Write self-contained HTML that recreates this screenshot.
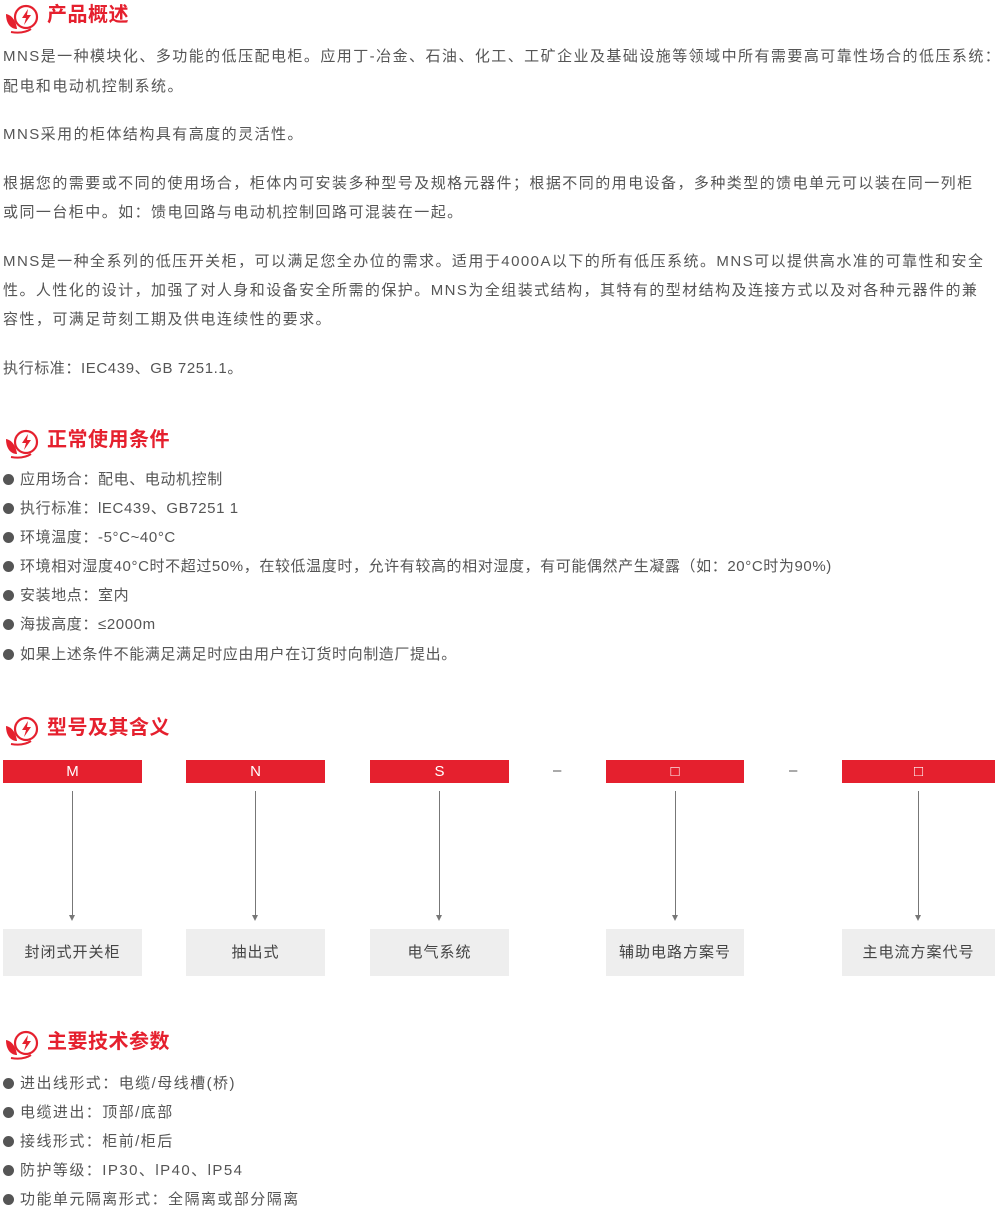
<!DOCTYPE html>
<html><head><meta charset="utf-8"><style>
body{margin:0;width:1000px;height:1215px;background:#fff;position:relative;overflow:hidden;font-family:"Liberation Sans","Noto Sans CJK SC",sans-serif;}
.t{position:absolute;left:3px;white-space:nowrap;font-size:15px;color:#555;letter-spacing:1.45px;line-height:20px;}
.n{letter-spacing:0.6px;}
.h{position:absolute;left:47px;font-size:20px;color:#e5202e;font-weight:bold;white-space:nowrap;line-height:24px;letter-spacing:0.5px;}
.ic{position:absolute;left:3px;width:36px;height:32px;}
.b::before{content:"";display:inline-block;width:11px;height:11px;border-radius:50%;background:#555;margin-right:6px;vertical-align:-1px;}
.rb{position:absolute;top:760px;height:23px;background:#e5202e;color:#fff;font-size:15px;text-align:center;line-height:23px;}
.gb{position:absolute;top:929px;height:47px;background:#eee;color:#444;font-size:15px;text-align:center;line-height:47px;letter-spacing:1px;}
.ar{position:absolute;top:791px;width:1px;height:125px;background:#777;}
.ar::after{content:"";position:absolute;left:-3px;bottom:-5px;border-left:3.5px solid transparent;border-right:3.5px solid transparent;border-top:6px solid #777;}
.d{position:absolute;top:762px;font-size:15px;color:#555;}
</style></head><body>
<svg width="0" height="0" style="position:absolute"><defs><g id="i"><circle cx="23" cy="15" r="11" fill="none" stroke="#e5202e" stroke-width="2.2"/><path d="M25 7 L19 16 L23 16 L21 23 L28 13 L24 13 Z" fill="#e5202e"/><path d="M3 12 C9 13 13 19 14 27 C8 27 3 22 3 12Z" fill="#e5202e"/><path d="M8 30 C14 31 22 31 28 27" stroke="#e5202e" stroke-width="2" fill="none"/></g></defs></svg>

<svg class="ic" style="top:2px" viewBox="0 0 36 32"><use href="#i"/></svg>
<div class="h" style="top:3px">产品概述</div>
<div class="t" style="top:47px">MNS是一种模块化、多功能的低压配电柜。应用丁-冶金、石油、化工、工矿企业及基础设施等领域中所有需要高可靠性场合的低压系统：</div>
<div class="t" style="top:77px">配电和电动机控制系统。</div>
<div class="t" style="top:125px">MNS采用的柜体结构具有高度的灵活性。</div>
<div class="t" style="top:174px">根据您的需要或不同的使用场合，柜体内可安装多种型号及规格元器件；根据不同的用电设备，多种类型的馈电单元可以装在同一列柜</div>
<div class="t" style="top:203px">或同一台柜中。如：馈电回路与电动机控制回路可混装在一起。</div>
<div class="t" style="top:252px">MNS是一种全系列的低压开关柜，可以满足您全办位的需求。适用于4000A以下的所有低压系统。MNS可以提供高水准的可靠性和安全</div>
<div class="t" style="top:281px">性。人性化的设计，加强了对人身和设备安全所需的保护。MNS为全组装式结构，其特有的型材结构及连接方式以及对各种元器件的兼</div>
<div class="t" style="top:310px">容性，可满足苛刻工期及供电连续性的要求。</div>
<div class="t n" style="top:359px">执行标准：IEC439、GB 7251.1。</div>

<svg class="ic" style="top:427px" viewBox="0 0 36 32"><use href="#i"/></svg>
<div class="h" style="top:428px">正常使用条件</div>
<div class="t b n" style="top:470px">应用场合：配电、电动机控制</div>
<div class="t b n" style="top:499px">执行标准：lEC439、GB7251 1</div>
<div class="t b n" style="top:528px">环境温度：-5°C~40°C</div>
<div class="t b n" style="top:557px">环境相对湿度40°C时不超过50%，在较低温度时，允许有较高的相对湿度，有可能偶然产生凝露（如：20°C时为90%)</div>
<div class="t b n" style="top:586px">安装地点：室内</div>
<div class="t b n" style="top:615px">海拔高度：≤2000m</div>
<div class="t b n" style="top:645px">如果上述条件不能满足满足时应由用户在订货时向制造厂提出。</div>

<svg class="ic" style="top:714px" viewBox="0 0 36 32"><use href="#i"/></svg>
<div class="h" style="top:716px">型号及其含义</div>
<div class="rb" style="left:3px;width:139px">M</div>
<div class="rb" style="left:186px;width:139px">N</div>
<div class="rb" style="left:370px;width:139px">S</div>
<div class="d" style="left:553px">–</div>
<div class="rb" style="left:606px;width:138px">□</div>
<div class="d" style="left:789px">–</div>
<div class="rb" style="left:842px;width:153px">□</div>
<div class="ar" style="left:72px"></div>
<div class="ar" style="left:255px"></div>
<div class="ar" style="left:439px"></div>
<div class="ar" style="left:675px"></div>
<div class="ar" style="left:918px"></div>
<div class="gb" style="left:3px;width:139px">封闭式开关柜</div>
<div class="gb" style="left:186px;width:139px">抽出式</div>
<div class="gb" style="left:370px;width:139px">电气系统</div>
<div class="gb" style="left:606px;width:138px">辅助电路方案号</div>
<div class="gb" style="left:842px;width:153px">主电流方案代号</div>

<svg class="ic" style="top:1028px" viewBox="0 0 36 32"><use href="#i"/></svg>
<div class="h" style="top:1030px">主要技术参数</div>
<div class="t b" style="top:1074px">进出线形式：电缆/母线槽(桥)</div>
<div class="t b" style="top:1103px">电缆进出：顶部/底部</div>
<div class="t b" style="top:1132px">接线形式：柜前/柜后</div>
<div class="t b" style="top:1161px">防护等级：IP30、lP40、lP54</div>
<div class="t b" style="top:1190px">功能单元隔离形式：全隔离或部分隔离</div>
</body></html>
